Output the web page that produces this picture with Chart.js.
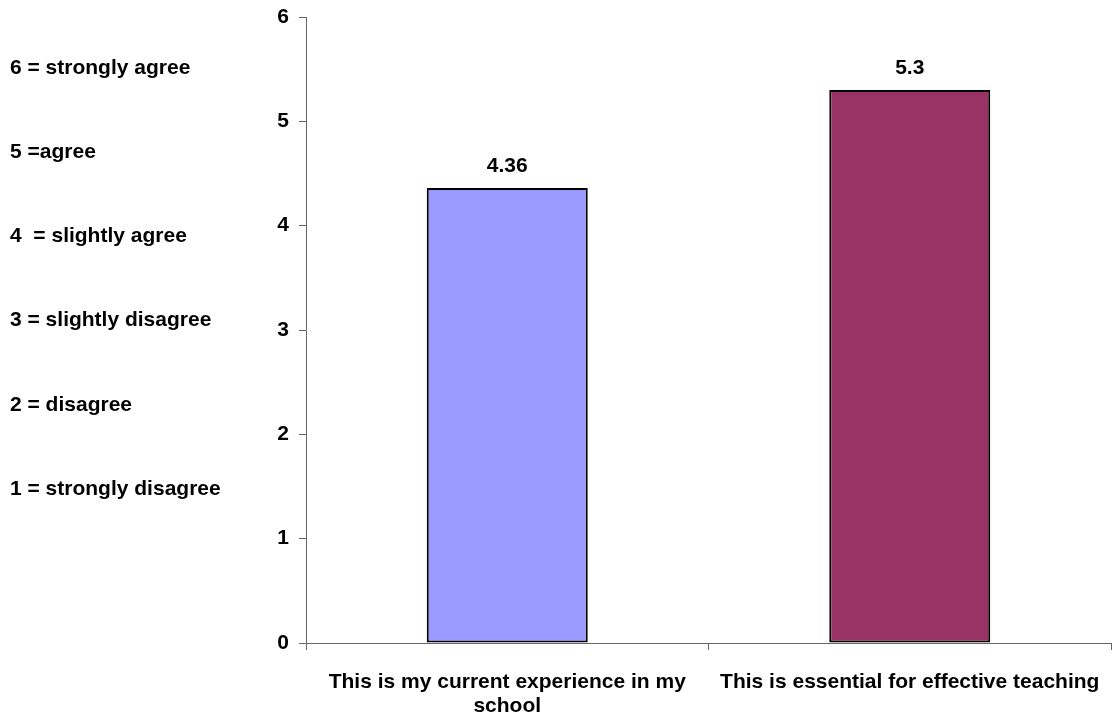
<!DOCTYPE html>
<html>
<head>
<meta charset="utf-8">
<script src="https://cdn.jsdelivr.net/npm/chart.js@4"></script>
<style>
  html, body { margin: 0; padding: 0; background: #fff; }
  #wrap { width: 1113px; height: 715px; }
</style>
</head>
<body>
<div id="wrap"><canvas id="c" width="1113" height="715"></canvas></div>
<script>
// Survey categories (multi-line labels) and mean ratings
const categories = [
  ['This is my current experience in my', 'school'],
  ['This is essential for effective teaching']
];
const meanScores = [4.36, 5.3];
const barColors = ['#9999FF', '#993366'];
const scaleKey = [
  '6 = strongly agree',
  '5 =agree',
  '4  = slightly agree',
  '3 = slightly disagree',
  '2 = disagree',
  '1 = strongly disagree'
];
const yTicks = [0, 1, 2, 3, 4, 5, 6];

const FONT = '"Liberation Sans", Arial, sans-serif';
const FS = 21;

// Rating key drawn in the left margin
const keyPlugin = {
  id: 'ratingKey',
  afterDraw(chart) {
    const ctx = chart.ctx;
    ctx.save();
    ctx.font = 'bold ' + FS + 'px ' + FONT;
    ctx.fillStyle = '#000';
    ctx.textAlign = 'left';
    ctx.textBaseline = 'middle';
    scaleKey.forEach((t, i) => ctx.fillText(t, 10, 68 + i * 84.2));
    ctx.restore();
  }
};

// Value labels above each bar
const valuePlugin = {
  id: 'valueLabels',
  afterDatasetsDraw(chart) {
    const ctx = chart.ctx;
    const meta = chart.getDatasetMeta(0);
    ctx.save();
    ctx.font = 'bold ' + FS + 'px ' + FONT;
    ctx.fillStyle = '#000';
    ctx.textAlign = 'center';
    ctx.textBaseline = 'middle';
    meta.data.forEach((bar, i) => {
      ctx.fillText(String(meanScores[i]), bar.x, bar.y - 22);
    });
    ctx.restore();
  }
};

// keep the plot area fixed regardless of label overhang
function noOverhang(scale) {
  scale.paddingLeft = 0;
  scale.paddingRight = 0;
  scale.paddingTop = 0;
  scale.paddingBottom = 0;
}

new Chart(document.getElementById('c'), {
  type: 'bar',
  data: {
    labels: categories,
    datasets: [{
      data: meanScores,
      backgroundColor: barColors,
      borderColor: '#000',
      borderWidth: 2,
      borderSkipped: false,
      categoryPercentage: 1,
      barPercentage: 0.4
    }]
  },
  options: {
    responsive: false,
    animation: false,
    layout: { padding: { left: 240, top: 17, right: 2, bottom: 0 } },
    plugins: { legend: { display: false }, tooltip: { enabled: false } },
    scales: {
      x: {
        grid: { display: true, drawOnChartArea: false, drawTicks: true, tickLength: 7, color: '#666', offset: true },
        border: { display: true, color: '#666', width: 1 },
        ticks: {
          color: '#000',
          font: { family: FONT, size: FS, weight: 'bold', lineHeight: 1.143 },
          padding: 20,
          maxRotation: 0,
          autoSkip: false
        },
        afterFit(scale) { scale.height = 72; noOverhang(scale); }
      },
      y: {
        min: 0,
        max: 6,
        afterBuildTicks(scale) { scale.ticks = yTicks.map(v => ({ value: v })); },
        grid: { display: true, drawOnChartArea: false, drawTicks: true, tickLength: 7, color: '#666' },
        border: { display: true, color: '#666', width: 1 },
        ticks: {
          color: '#000',
          font: { family: FONT, size: FS, weight: 'bold' },
          padding: 10
        },
        afterFit(scale) { scale.width = 66; noOverhang(scale); }
      }
    }
  },
  plugins: [keyPlugin, valuePlugin]
});
</script>
</body>
</html>
